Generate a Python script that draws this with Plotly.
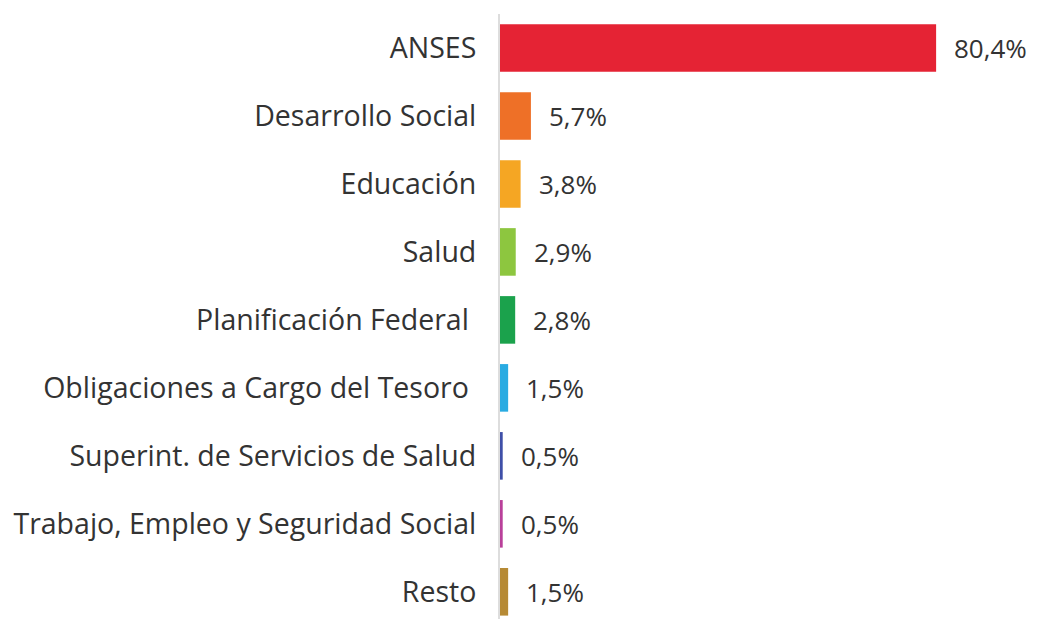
import plotly.graph_objects as go

categories = [
    "ANSES",
    "Desarrollo Social",
    "Educación",
    "Salud",
    "Planificación Federal\u00a0",
    "Obligaciones a Cargo del Tesoro\u00a0",
    "Superint. de Servicios de Salud",
    "Trabajo, Empleo y Seguridad Social",
    "Resto",
]
values = [80.4, 5.7, 3.8, 2.9, 2.8, 1.5, 0.5, 0.5, 1.5]
value_labels = ["80,4%", "5,7%", "3,8%", "2,9%", "2,8%", "1,5%", "0,5%", "0,5%", "1,5%"]
colors = ["#E52334", "#EE7027", "#F5A623", "#8DC63F", "#1BA24C",
          "#29ABE2", "#3F4FA8", "#B9409A", "#B68A35"]

FONT = "Open Sans"

fig = go.Figure(go.Bar(
    x=values,
    y=categories,
    orientation="h",
    marker=dict(color=colors, line=dict(width=0)),
    width=0.7,
    hoverinfo="skip",
))

for v, c, t in zip(values, categories, value_labels):
    fig.add_annotation(x=v, y=c, text=t, showarrow=False, xanchor="left",
                       xshift=16, font=dict(family=FONT, size=26, color="#333333"))

fig.update_layout(
    width=1029, height=611,
    margin=dict(l=492, r=0, t=6, b=0),
    paper_bgcolor="white", plot_bgcolor="white",
    showlegend=False,
    xaxis=dict(range=[0, 99], visible=False, fixedrange=True),
    yaxis=dict(
        range=[8.4, -0.5],
        showline=True, linecolor="#DDDDDD", linewidth=2,
        showgrid=False, zeroline=False,
        ticks="", ticklabelstandoff=16,
        tickfont=dict(family=FONT, size=28.5, color="#333333"),
        fixedrange=True,
    ),
)

fig.write_html("out.html")
